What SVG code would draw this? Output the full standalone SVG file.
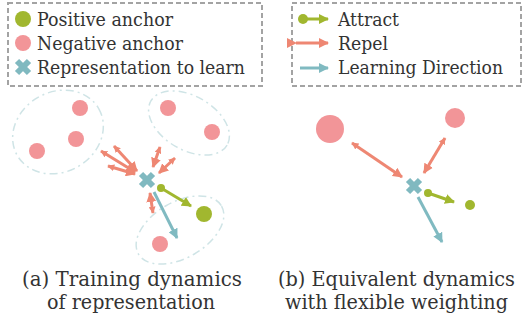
<svg xmlns="http://www.w3.org/2000/svg" width="531" height="323" viewBox="0 0 531 323">
<style>
  text { font-family: "DejaVu Serif", "Liberation Serif", serif; fill: #333333; }
  .lbl { font-size: 18.5px; }
  .cap { font-size: 20px; }
  .box { fill: none; stroke: #a3a3a3; stroke-width: 2; stroke-dasharray: 5 3; }
  .grp { fill: none; stroke: #cfe4e6; stroke-width: 1.5; stroke-dasharray: 8 4 2 4; }
  .neg { fill: #f29598; }
  .pos { fill: #a1b72f; }
  .cross { stroke: #80b9c0; stroke-width: 6; }
  .rep { stroke: #ee8773; stroke-width: 3; fill: none; marker-end: url(#hr); marker-start: url(#tr); }
  .att { stroke: #a1b72f; stroke-width: 3; fill: none; marker-end: url(#hg); }
  .lrn { stroke: #80bac1; stroke-width: 3; fill: none; marker-end: url(#hb); }
</style>
<defs>
  <marker id="hr" viewBox="0 0 10 10" refX="9" refY="5" markerWidth="10" markerHeight="10" markerUnits="userSpaceOnUse" orient="auto"><path d="M0,0 L10,5 L0,10 z" fill="#ee8773"/></marker>
  <marker id="tr" viewBox="0 0 10 10" refX="9" refY="5" markerWidth="7" markerHeight="7" markerUnits="userSpaceOnUse" orient="auto-start-reverse"><path d="M0,0 L10,5 L0,10 z" fill="#ee8773"/></marker>
  <marker id="hg" viewBox="0 0 10 10" refX="9" refY="5" markerWidth="10" markerHeight="10" markerUnits="userSpaceOnUse" orient="auto"><path d="M0,0 L10,5 L0,10 z" fill="#a1b72f"/></marker>
  <marker id="hb" viewBox="0 0 10 10" refX="9" refY="5" markerWidth="10" markerHeight="10" markerUnits="userSpaceOnUse" orient="auto"><path d="M0,0 L10,5 L0,10 z" fill="#80bac1"/></marker>
</defs>

<!-- Legend 1 -->
<g id="legend-nodes">
  <rect class="box" x="8" y="3" width="254" height="83"/>
  <circle class="pos" cx="23" cy="19" r="8"/>
  <text class="lbl" x="37" y="26" textLength="136" lengthAdjust="spacingAndGlyphs">Positive anchor</text>
  <circle class="neg" cx="23" cy="43" r="8"/>
  <text class="lbl" x="37" y="50" textLength="146" lengthAdjust="spacingAndGlyphs">Negative anchor</text>
  <g class="cross"><line x1="17" y1="61" x2="29" y2="73"/><line x1="29" y1="61" x2="17" y2="73"/></g>
  <text class="lbl" x="37" y="74" textLength="208" lengthAdjust="spacingAndGlyphs">Representation to learn</text>
</g>

<!-- Legend 2 -->
<g id="legend-arrows">
  <rect class="box" x="292" y="3" width="229" height="83"/>
  <circle class="pos" cx="303" cy="19" r="5"/>
  <line class="att" x1="303" y1="19" x2="328" y2="19"/>
  <text class="lbl" x="338" y="26" textLength="61" lengthAdjust="spacingAndGlyphs">Attract</text>
  <line class="rep" x1="296" y1="43" x2="328" y2="43" style="marker-start:url(#hr)"/>
  <text class="lbl" x="338" y="50" textLength="50" lengthAdjust="spacingAndGlyphs">Repel</text>
  <line class="lrn" x1="300" y1="68" x2="328" y2="68"/>
  <text class="lbl" x="338" y="74" textLength="165" lengthAdjust="spacingAndGlyphs">Learning Direction</text>
</g>

<!-- Panel (a) -->
<g id="a-groups">
  <ellipse class="grp" cx="58" cy="132" rx="47" ry="40" transform="rotate(-30 58 132)"/>
  <ellipse class="grp" cx="189" cy="123" rx="44" ry="27" transform="rotate(30 189 123)"/>
  <ellipse class="grp" cx="180" cy="230" rx="48" ry="28" transform="rotate(-30 180 230)"/>
</g>
<g id="a-neg1"><circle class="neg" cx="80" cy="108" r="8"/></g>
<g id="a-neg2"><circle class="neg" cx="76" cy="139" r="8"/></g>
<g id="a-neg3"><circle class="neg" cx="37" cy="151" r="8"/></g>
<g id="a-neg4"><circle class="neg" cx="168" cy="108" r="8"/></g>
<g id="a-neg5"><circle class="neg" cx="212" cy="132" r="8"/></g>
<g id="a-neg6"><circle class="neg" cx="160" cy="244" r="8"/></g>
<g id="a-pos"><circle class="pos" cx="204" cy="214" r="8"/></g>
<g id="a-rep"><g class="cross"><line x1="141" y1="174" x2="153" y2="186"/><line x1="153" y1="174" x2="141" y2="186"/></g></g>
<g id="a-connectors">
  <line class="rep" x1="101" y1="151" x2="135" y2="172"/>
  <line class="rep" x1="114" y1="146" x2="137" y2="171"/>
  <line class="rep" x1="108" y1="166" x2="135" y2="174"/>
  <line class="rep" x1="160" y1="147" x2="153" y2="167"/>
  <line class="rep" x1="175" y1="158" x2="159" y2="173"/>
  <line class="rep" x1="153" y1="213" x2="150" y2="193"/>
  <circle class="pos" cx="161" cy="188" r="4"/>
  <line class="att" x1="161" y1="188" x2="191" y2="206"/>
  <line class="lrn" x1="154" y1="192" x2="177" y2="238"/>
</g>

<!-- Panel (b) -->
<g id="b-neg1"><circle class="neg" cx="330" cy="129" r="14"/></g>
<g id="b-neg2"><circle class="neg" cx="455" cy="118" r="10"/></g>
<g id="b-pos"><circle class="pos" cx="470" cy="205" r="5"/></g>
<g id="b-rep"><g class="cross"><line x1="408" y1="180" x2="420" y2="192"/><line x1="420" y1="180" x2="408" y2="192"/></g></g>
<g id="b-connectors">
  <line class="rep" x1="352" y1="143" x2="402" y2="177"/>
  <line class="rep" x1="445" y1="138" x2="424" y2="173"/>
  <circle class="pos" cx="428" cy="193" r="4"/>
  <line class="att" x1="428" y1="193" x2="454" y2="202"/>
  <line class="lrn" x1="418" y1="197" x2="442" y2="242"/>
</g>

<!-- Captions -->
<g id="captions">
  <text class="cap" x="22" y="286" textLength="220" lengthAdjust="spacingAndGlyphs">(a) Training dynamics</text>
  <text class="cap" x="47" y="309" textLength="168" lengthAdjust="spacingAndGlyphs">of representation</text>
  <text class="cap" x="278" y="286" textLength="237" lengthAdjust="spacingAndGlyphs">(b) Equivalent dynamics</text>
  <text class="cap" x="285" y="309" textLength="223" lengthAdjust="spacingAndGlyphs">with flexible weighting</text>
</g>
</svg>
